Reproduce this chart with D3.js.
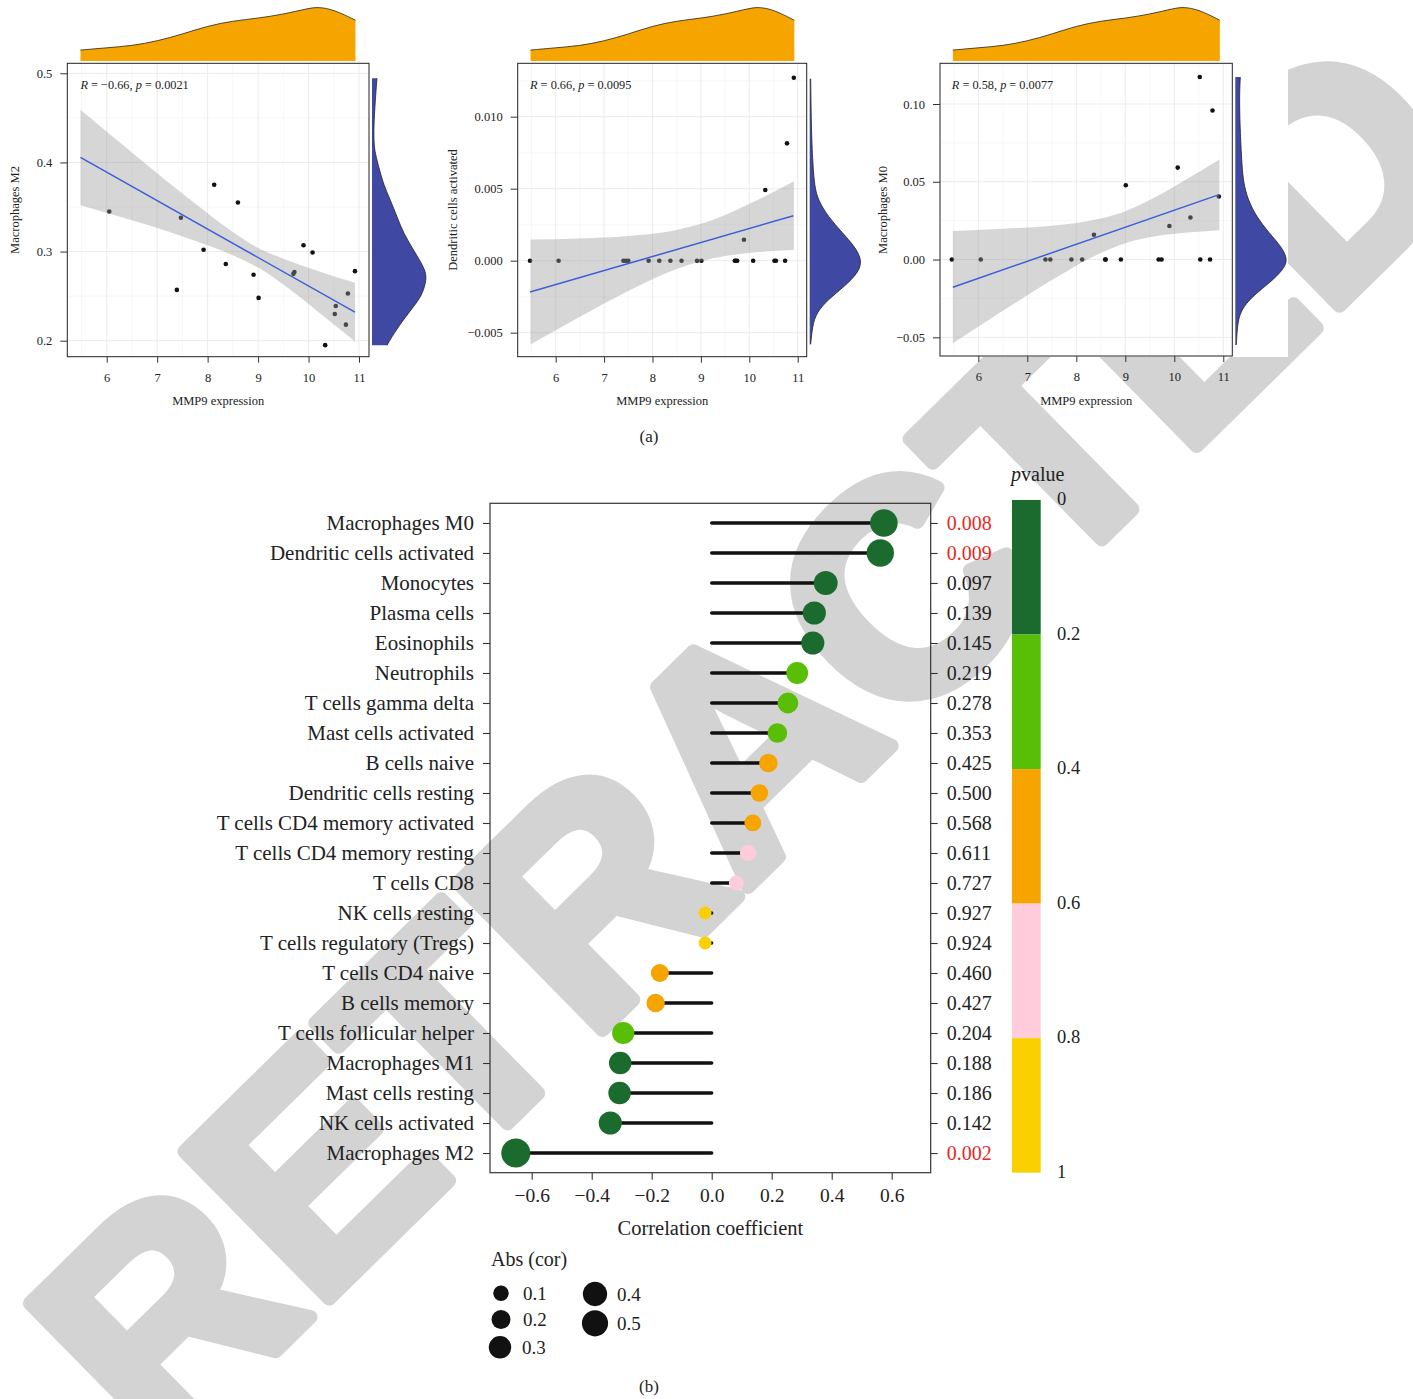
<!DOCTYPE html>
<html><head><meta charset="utf-8">
<script src="https://cdn.jsdelivr.net/npm/d3@7"></script>
<style>
body{margin:0;background:#fff}
svg{display:block}
</style>
</head><body>
<svg id="c" width="1413" height="1399"></svg>
<script>
// ---------------- DATA ----------------
// Panel (a): MMP9 expression vs immune cell fractions
const mmp9_m2 = [6.05,7.39,7.47,7.92,8.13,8.36,8.60,8.91,9.01,9.70,9.72,9.90,10.08,10.33,10.52,10.54,10.74,10.78,10.92];
const macM2   = [0.345,0.257,0.338,0.302,0.375,0.286,0.355,0.274,0.248,0.275,0.277,0.307,0.299,0.195,0.230,0.239,0.218,0.253,0.278];
const mmp9_dc = [5.47,6.06,7.40,7.45,7.50,7.92,8.14,8.37,8.60,8.92,9.01,9.70,9.72,9.75,9.89,10.08,10.33,10.52,10.55,10.74,10.78,10.92];
const dcAct   = [0,0,0,0,0,0,0,0,0,0,0,0,0,0,0.00145,0,0.00491,0,0,0,0.00815,0.0127];
const mmp9_m0 = [5.46,6.05,7.37,7.47,7.90,8.12,8.36,8.59,8.60,8.91,9.01,9.68,9.74,9.90,10.07,10.33,10.52,10.53,10.73,10.78,10.91];
const macM0   = [0,0,0,0,0,0,0.0159,0,0,0,0.0478,0,0,0.0216,0.0591,0.0270,0.1174,0,0,0.0958,0.0405];

// regression lines (end points) and confidence bands
const fitX_m2 = [5.48,10.92], fitY_m2 = [0.4056,0.2320];
const fitX_dc = [5.47,10.91], fitY_dc = [-0.00217,0.00312];
const fitX_m0 = [5.48,10.90], fitY_m0 = [-0.0178,0.0416];
const bandX   = [5.48,6.5,7.5,8.5,9.0,9.5,10.2,10.92];
const bandHi_m2 = [0.459,0.411,0.365,0.322,0.304,0.292,0.278,0.265];
const bandLo_m2 = [0.352,0.335,0.317,0.296,0.282,0.263,0.232,0.199];
const bandHi_dc = [0.00148,0.00155,0.00171,0.00214,0.00256,0.00318,0.00426,0.00551];
const bandLo_dc = [-0.00582,-0.00389,-0.00210,-0.00058,-0.00004,0.00032,0.00060,0.00075];
const bandHi_m0 = [0.0183,0.0198,0.0218,0.0264,0.0311,0.0383,0.0506,0.0643];
const bandLo_m0 = [-0.0539,-0.0330,-0.0132,0.0042,0.0105,0.0143,0.0172,0.0189];

// marginal densities (relative units)
const topDensX = [5.48,6.0,6.5,7.0,7.5,8.0,8.5,9.0,9.5,10.0,10.2,10.5,10.93];
const topDens  = [11,13.3,15.3,20,27,35.3,40.3,43,47,53,54.3,51.7,41];
const rdY_m2 = [0.1948,0.2079,0.2266,0.2453,0.2566,0.2715,0.2828,0.3015,0.320,0.339,0.358,0.3745,0.395,0.41,0.42,0.44,0.47,0.4944];
const rdW_m2 = [15,21.7,33.3,46.7,51.7,55,51.7,41.7,31.7,25,18.3,11.7,6.7,3.3,2,1.7,3.3,5];
const rdY_dc = [-0.00581,-0.00454,-0.00362,-0.0027,-0.00178,-0.00085,0,0.00099,0.00191,0.00307,0.00422,0.00514,0.00653,0.00884,0.01264];
const rdW_dc = [1,2.7,6.7,18.3,35,48.3,52.7,45,33,18.3,8.3,5,3.3,1.7,1];
const rdY_m0 = [-0.0549,-0.0474,-0.0388,-0.0302,-0.0216,-0.0152,-0.0066,0,0.0084,0.0169,0.0276,0.0384,0.0491,0.0598,0.0812,0.1027,0.1174];
const rdW_m0 = [1,1.7,2.7,7.7,21,34,48,52.7,46,34,21,12.7,8.3,6.7,5,4,5];

const xTicksA = [6,7,8,9,10,11];
const xMinorA = [5.5,6.5,7.5,8.5,9.5,10.5];

// Panel (b): lollipop
const cellTypes = ["Macrophages M0","Dendritic cells activated","Monocytes","Plasma cells","Eosinophils","Neutrophils","T cells gamma delta","Mast cells activated","B cells naive","Dendritic cells resting","T cells CD4 memory activated","T cells CD4 memory resting","T cells CD8","NK cells resting","T cells regulatory (Tregs)","T cells CD4 naive","B cells memory","T cells follicular helper","Macrophages M1","Mast cells resting","NK cells activated","Macrophages M2"];
const corValues = [0.574,0.562,0.380,0.342,0.337,0.285,0.254,0.219,0.189,0.159,0.137,0.121,0.082,-0.022,-0.022,-0.173,-0.187,-0.295,-0.305,-0.307,-0.338,-0.653];
const pValues = [0.008,0.009,0.097,0.139,0.145,0.219,0.278,0.353,0.425,0.500,0.568,0.611,0.727,0.927,0.924,0.460,0.427,0.204,0.188,0.186,0.142,0.002];
const pBreaks = [0,0.2,0.4,0.6,0.8,1];
const pColors = ["#1b6b2e","#59be08","#f5a400","#ffccdb","#fad000"];
const corTicks = [-0.6,-0.4,-0.2,0,0.2,0.4,0.6];
const sizeLegend = [0.1,0.2,0.3,0.4,0.5];

// ---------------- DRAW ----------------
const svg = d3.select("#c");
const SERIF = '"Liberation Serif","Times New Roman",serif';
const TXT = "#222";

// watermark
svg.append("text")
  .attr("transform","translate(745,740) rotate(-44.5)")
  .attr("text-anchor","middle").attr("y",107)
  .attr("font-family",'"Liberation Sans",Arial,sans-serif').attr("font-weight","bold")
  .attr("font-size",300).attr("fill","#d3d3d3").attr("stroke","#d3d3d3").attr("stroke-width",14)
  .attr("stroke-linejoin","round")
  .text("RETRACTED");

// white backing of panel (a) graphics
svg.append("rect").attr("x",0).attr("y",0).attr("width",1288).attr("height",357).attr("fill","#fff");

function scatterPanel(o){
  const x = d3.scaleLinear().domain(o.xDom).range([o.left,o.right]);
  const y = d3.scaleLinear().domain(o.yDom).range([o.bottom,o.top]);
  const g = svg.append("g");
  // grid
  xMinorA.forEach(v=>g.append("line").attr("x1",x(v)).attr("x2",x(v)).attr("y1",o.top).attr("y2",o.bottom).attr("stroke","#f2f2f2").attr("stroke-width",0.6));
  o.yMinor.forEach(v=>g.append("line").attr("y1",y(v)).attr("y2",y(v)).attr("x1",o.left).attr("x2",o.right).attr("stroke","#f2f2f2").attr("stroke-width",0.6));
  xTicksA.forEach(v=>g.append("line").attr("x1",x(v)).attr("x2",x(v)).attr("y1",o.top).attr("y2",o.bottom).attr("stroke","#ebebeb").attr("stroke-width",1));
  o.yTicks.forEach(v=>g.append("line").attr("y1",y(v)).attr("y2",y(v)).attr("x1",o.left).attr("x2",o.right).attr("stroke","#ebebeb").attr("stroke-width",1));
  // points
  g.selectAll("circle.pt").data(o.px.map((v,i)=>[v,o.py[i]])).join("circle")
    .attr("cx",d=>x(d[0])).attr("cy",d=>y(d[1])).attr("r",2.3).attr("fill","#111");
  // band
  const band = d3.area().x((d,i)=>x(bandX[i])).y0((d,i)=>y(o.lo[i])).y1((d,i)=>y(o.hi[i])).curve(d3.curveMonotoneX);
  g.append("path").attr("d",band(bandX)).attr("fill","#999").attr("fill-opacity",0.4);
  // fit line
  g.append("line").attr("x1",x(o.fx[0])).attr("x2",x(o.fx[1])).attr("y1",y(o.fy[0])).attr("y2",y(o.fy[1]))
    .attr("stroke","#3b5fd6").attr("stroke-width",1.5);
  // border
  g.append("rect").attr("x",o.left).attr("y",o.top).attr("width",o.right-o.left).attr("height",o.bottom-o.top)
    .attr("fill","none").attr("stroke","#222").attr("stroke-width",1);
  // axes
  const ax = g.append("g").attr("transform",`translate(0,${o.bottom})`)
    .call(d3.axisBottom(x).tickValues(xTicksA).tickFormat(d3.format("d")).tickSize(6).tickPadding(10));
  const ay = g.append("g").attr("transform",`translate(${o.left},0)`)
    .call(d3.axisLeft(y).tickValues(o.yTicks).tickFormat(d3.format(o.yFmt)).tickSize(7).tickPadding(8));
  [ax,ay].forEach(a=>{
    a.select(".domain").remove();
    a.selectAll("line").attr("stroke","#333");
    a.selectAll("text").attr("font-family",SERIF).attr("font-size",12.5).attr("fill",TXT);
  });
  // labels
  g.append("text").attr("x",(o.left+o.right)/2).attr("y",405).attr("text-anchor","middle")
    .attr("font-family",SERIF).attr("font-size",12.5).attr("fill",TXT).text("MMP9 expression");
  g.append("text").attr("transform",`translate(${o.ylabX},210) rotate(-90)`).attr("text-anchor","middle")
    .attr("font-family",SERIF).attr("font-size",12.5).attr("fill",TXT).text(o.ylab);
  const an = g.append("text").attr("x",x(d3.min(o.allX))).attr("y",89)
    .attr("font-family",SERIF).attr("font-size",12.3).attr("fill",TXT);
  an.append("tspan").attr("font-style","italic").text("R");
  an.append("tspan").text(" = " + o.r + ", ");
  an.append("tspan").attr("font-style","italic").text("p");
  an.append("tspan").text(" = " + o.p);
  // top density
  const hS = d3.scaleLinear().domain([0,54.3]).range([0,54]);
  const base = 61;
  const ta = d3.area().x((d,i)=>x(topDensX[i])).y0(base).y1(d=>base-hS(d)).curve(d3.curveBasis);
  const tl = d3.line().x((d,i)=>x(topDensX[i])).y(d=>base-hS(d)).curve(d3.curveBasis);
  g.append("path").attr("d",ta(topDens)).attr("fill","#f6a500");
  g.append("path").attr("d",tl(topDens)).attr("fill","none").attr("stroke","#222").attr("stroke-width",0.8);
  // right density
  const wS = d3.scaleLinear().domain([0,55]).range([0,55]);
  const x0 = o.right + 3;
  const ra = d3.area().y((d,i)=>y(o.rdY[i])).x0(x0).x1(d=>x0+wS(d)).curve(d3.curveBasis);
  const rl = d3.line().y((d,i)=>y(o.rdY[i])).x(d=>x0+wS(d)).curve(d3.curveBasis);
  g.append("path").attr("d",ra(o.rdW)).attr("fill","#3f48a2");
  g.append("path").attr("d",rl(o.rdW)).attr("fill","none").attr("stroke","#222").attr("stroke-width",0.8);
}

scatterPanel({left:67.3,right:369,top:63.3,bottom:356.7,xDom:[5.219,11.198],yDom:[0.18205,0.5112],
  yTicks:[0.2,0.3,0.4,0.5],yMinor:[0.25,0.35,0.45],yFmt:".1f",px:mmp9_m2,py:macM2,allX:[5.48].concat(mmp9_m2),
  fx:fitX_m2,fy:fitY_m2,hi:bandHi_m2,lo:bandLo_m2,rdY:rdY_m2,rdW:rdW_m2,ylab:"Macrophages M2",ylabX:19,r:"\u22120.66",p:"0.0021"});
scatterPanel({left:517.7,right:806.7,top:63.3,bottom:356.7,xDom:[5.215,11.186],yDom:[-0.006667,0.013708],
  yTicks:[-0.005,0,0.005,0.010],yMinor:[-0.0025,0.0025,0.0075,0.0125],yFmt:".3f",px:mmp9_dc,py:dcAct,allX:mmp9_dc,
  fx:fitX_dc,fy:fitY_dc,hi:bandHi_dc,lo:bandLo_dc,rdY:rdY_dc,rdW:rdW_dc,ylab:"Dendritic cells activated",ylabX:457,r:"0.66",p:"0.0095"});
scatterPanel({left:940,right:1232.3,top:63.3,bottom:356,xDom:[5.218,11.184],yDom:[-0.06202,0.12617],
  yTicks:[-0.05,0,0.05,0.10],yMinor:[-0.025,0.025,0.075,0.125],yFmt:".2f",px:mmp9_m0,py:macM0,allX:mmp9_m0,
  fx:fitX_m0,fy:fitY_m0,hi:bandHi_m0,lo:bandLo_m0,rdY:rdY_m0,rdW:rdW_m0,ylab:"Macrophages M0",ylabX:887,r:"0.58",p:"0.0077"});

svg.append("text").attr("x",649).attr("y",442).attr("text-anchor","middle").attr("font-family",SERIF)
  .attr("font-size",17).attr("fill",TXT).text("(a)");

// ---------- Panel (b) ----------
const L = {left:490,right:930.7,top:503.3,bottom:1172.7};
const xL = d3.scaleLinear().domain([-0.739,0.730]).range([L.left,L.right]);
const yL = d3.scalePoint().domain(cellTypes).range([L.top,L.bottom]).padding(0.656);
const colorP = d3.scaleThreshold().domain(pBreaks.slice(1,-1)).range(pColors);
const rS = d3.scaleLinear().domain([0,0.3,0.65]).range([6,11.2,14.5]);
const gb = svg.append("g");
const rows = cellTypes.map((c,i)=>({c,v:corValues[i],p:pValues[i]}));

gb.selectAll("line.seg").data(rows).join("line")
  .attr("x1",xL(0)).attr("x2",d=>xL(d.v)).attr("y1",d=>yL(d.c)).attr("y2",d=>yL(d.c))
  .attr("stroke","#111").attr("stroke-width",3.4).attr("stroke-linecap","round");
gb.selectAll("circle.dot").data(rows).join("circle")
  .attr("cx",d=>xL(d.v)).attr("cy",d=>yL(d.c)).attr("r",d=>rS(Math.abs(d.v))).attr("fill",d=>colorP(d.p));
gb.append("rect").attr("x",L.left).attr("y",L.top).attr("width",L.right-L.left).attr("height",L.bottom-L.top)
  .attr("fill","none").attr("stroke","#333").attr("stroke-width",1.2);

const axB = gb.append("g").attr("transform",`translate(0,${L.bottom})`)
  .call(d3.axisBottom(xL).tickValues(corTicks).tickFormat(d3.format(".1f")).tickSize(7).tickPadding(8.5));
const axLft = gb.append("g").attr("transform",`translate(${L.left},0)`)
  .call(d3.axisLeft(yL).tickSize(7).tickPadding(9));
const axR = gb.append("g").attr("transform",`translate(${L.right},0)`)
  .call(d3.axisRight(yL).tickSize(7).tickPadding(9).tickFormat((d,i)=>d3.format(".3f")(pValues[i])));
[axB,axLft,axR].forEach(a=>{
  a.select(".domain").remove();
  a.selectAll("line").attr("stroke","#333").attr("stroke-width",1.1);
  a.selectAll("text").attr("font-family",SERIF).attr("font-size",20).attr("fill",TXT);
});
axLft.selectAll("text").attr("font-size",21);
axB.selectAll("text").attr("font-size",19.5);
axR.selectAll("text").attr("fill",(d,i)=>pValues[i]<0.05?"#e8281f":TXT);

gb.append("text").attr("x",(L.left+L.right)/2).attr("y",1235).attr("text-anchor","middle")
  .attr("font-family",SERIF).attr("font-size",20.5).attr("fill",TXT).text("Correlation coefficient");

// colour bar
const yP = d3.scaleLinear().domain([0,1]).range([500,1172.7]);
pColors.forEach((c,i)=>{
  gb.append("rect").attr("x",1012).attr("width",28.7).attr("y",yP(pBreaks[i])).attr("height",yP(pBreaks[i+1])-yP(pBreaks[i])).attr("fill",c);
});
pBreaks.forEach(v=>{
  gb.append("text").attr("x",1057).attr("y",yP(v)+5).attr("font-family",SERIF).attr("font-size",18.5)
    .attr("fill",TXT).text(v===0||v===1?String(v):v.toFixed(1));
});
const pt = gb.append("text").attr("x",1011).attr("y",481).attr("font-family",SERIF).attr("font-size",20).attr("fill",TXT);
pt.append("tspan").attr("font-style","italic").text("p");
pt.append("tspan").text("value");

// size legend
gb.append("text").attr("x",491).attr("y",1266).attr("font-family",SERIF).attr("font-size",20).attr("fill",TXT).text("Abs (cor)");
const legPos = [[501,1293.3],[501,1319.5],[500,1347.3],[595,1294],[595,1323.3]];
sizeLegend.forEach((v,i)=>{
  gb.append("circle").attr("cx",legPos[i][0]).attr("cy",legPos[i][1]).attr("r",rS(v)).attr("fill","#111");
  gb.append("text").attr("x",legPos[i][0]+22).attr("y",legPos[i][1]+6.5).attr("font-family",SERIF)
    .attr("font-size",19).attr("fill",TXT).text(v.toFixed(1));
});

svg.append("text").attr("x",649).attr("y",1392).attr("text-anchor","middle").attr("font-family",SERIF)
  .attr("font-size",17).attr("fill",TXT).text("(b)");
</script>
</body></html>
